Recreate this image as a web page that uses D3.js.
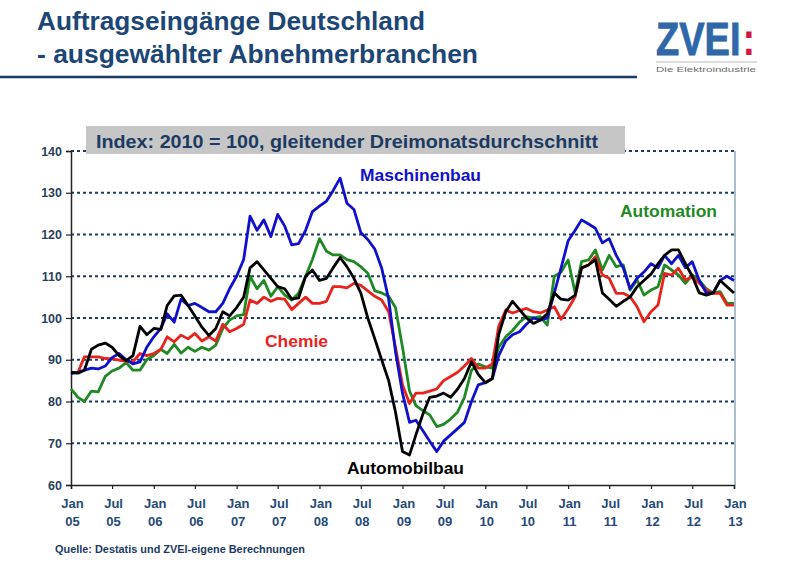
<!DOCTYPE html>
<html>
<head>
<meta charset="utf-8">
<script src="https://cdn.jsdelivr.net/npm/d3@7"></script>
<style>
  html, body { margin: 0; padding: 0; background: #ffffff; }
  svg { display: block; font-family: "Liberation Sans", Arial, sans-serif; }
</style>
</head>
<body>
<svg id="chart" width="800" height="562"></svg>
<script>
// ---------- DATA ----------
const startMonth = new Date(2005, 0, 1);
const monthCount = 97; // Jan 2005 .. Jan 2013

const yTicks = [60, 70, 80, 90, 100, 110, 120, 130, 140];
const xTickMonths = ["Jan","Jul","Jan","Jul","Jan","Jul","Jan","Jul","Jan","Jul","Jan","Jul","Jan","Jul","Jan","Jul","Jan"];
const xTickYears  = ["05","05","06","06","07","07","08","08","09","09","10","10","11","11","12","12","13"];

const maschinenbau = [
  86.7, 87, 87.5, 88, 87.8, 88.5, 90.5, 91.5, 90, 89, 89.5, 93,
  95.5, 97.5, 101, 99, 104.5, 103, 103.5, 102.5, 101.5, 101.5, 103.5, 107,
  110, 114, 124.4, 121, 123.5, 119.5, 124.8, 122, 117.5, 117.8, 121, 125.5,
  126.8, 128, 130.5, 133.5, 127.5, 126, 120.5, 118.8, 116.5, 112, 104.5, 92,
  82, 75, 75.5, 73, 70.5, 68, 70.5, 72, 73.5, 75, 80, 84,
  84.5, 85.5, 91, 94.5, 96, 96.7, 98.5, 100, 99.5, 100, 106, 112,
  118.5, 121, 123.5, 122.5, 121.5, 118, 119, 115, 112, 107, 109.5, 111,
  113, 112, 115, 113, 115, 112, 113.5, 109, 106, 106, 109, 110, 109
];
const automobilbau = [
  87, 86.8, 87.5, 92.5, 93.5, 94, 93, 91, 89.8, 91, 98, 96,
  97.5, 97.3, 103, 105.3, 105.5, 103, 100.5, 97.8, 95.8, 97.5, 101.5, 100.5,
  102.5, 105, 112, 113.5, 111.5, 109.5, 107.5, 107, 104.5, 104.8, 110, 111.5,
  109, 109.5, 112, 114.5, 112.3, 109.5, 106, 100, 95, 90, 85, 77.5,
  68, 67.2, 72, 77, 81, 81.3, 82, 81, 83, 85.5, 89.5, 86.5,
  84.5, 85.5, 96, 101.5, 104, 102, 100, 98.7, 99.5, 101, 106, 104.5,
  104.3, 105.5, 112, 112.7, 114, 106, 104.5, 102.8, 104, 105, 107.5, 109,
  110.5, 113, 115, 116.3, 116.3, 113, 110, 106, 105.5, 106, 109, 107.5, 106
];
const automation = [
  83, 81, 80, 82.5, 82.3, 86, 87.3, 88, 89.3, 87.5, 87.5, 90,
  91, 92.5, 91.5, 93.7, 91.6, 93, 92, 93, 92.3, 93.5, 97.5, 99.5,
  100.5, 100.8, 110, 107, 109, 105.2, 107.5, 105.5, 104.3, 105.9, 110, 114,
  119, 116, 115.1, 115.1, 114, 113.5, 112.3, 110.7, 106.5, 106, 105.2, 102.5,
  93, 82.5, 79, 77.8, 76.8, 74, 74.5, 75.8, 77.5, 81, 87.5, 89,
  88.3, 88, 93, 95.5, 97, 99, 100.3, 100, 100.3, 98.3, 110, 111,
  113.9, 106, 113.5, 113.9, 116.3, 111.5, 115, 112.3, 112.7, 106.7, 109.1, 105.5,
  106.7, 107.5, 112.7, 111.5, 110.3, 108.3, 110.3, 109, 107, 106, 106.3, 103.5, 103.5
];
const chemie = [
  87, 87, 90.7, 90.7, 90.7, 90.3, 90.2, 89.9, 89.6, 89.5, 91.5, 91,
  91.5, 92.5, 95.5, 94.3, 95.9, 95, 96.3, 94.5, 95.5, 94.5, 98.5, 96.7,
  97.5, 98.5, 104.3, 103.5, 105, 104, 104.7, 104.5, 102, 103.5, 105, 103.5,
  103.5, 104, 107.5, 107.5, 107.2, 108.3, 107.8, 106.5, 105.2, 104.3, 101.5, 93,
  84, 79.5, 82, 82, 82.5, 83, 85, 86, 87, 88.5, 90.3, 88,
  88, 89, 98, 101.9, 101.2, 101.8, 102.3, 101.5, 101.2, 101.9, 102.7, 99.7,
  102.2, 105.1, 112, 112.7, 114.7, 110.3, 109.5, 105.9, 105.9, 105.1, 102.7, 99.1,
  101.5, 103.1, 110.7, 110.3, 111.9, 109.1, 109.9, 108.3, 106.7, 105.9, 105.9, 103.1, 103.1
];

const seriesNames = ["Automation", "Chemie", "Maschinenbau", "Automobilbau"];
const seriesValues = [automation, chemie, maschinenbau, automobilbau];
const seriesColors = ["#1f8a24", "#e8231c", "#1010cc", "#000000"];

// ---------- DRAW ----------
const svg = d3.select("#chart");
const months = d3.timeMonth.range(startMonth, d3.timeMonth.offset(startMonth, monthCount));

const plot = { left: 71, right: 734, top: 151, bottom: 485 };
const x = d3.scaleTime()
  .domain([months[0], months[months.length - 1]])
  .range([plot.left, plot.right]);
const y = d3.scaleLinear().domain([60, 140]).range([plot.bottom, plot.top]);

const navy = "#1d3a63";

// Title
svg.append("text").attr("x", 37).attr("y", 30)
  .attr("font-size", 25).attr("font-weight", "bold").attr("fill", "#1b4676")
  .attr("textLength", 388).attr("lengthAdjust", "spacingAndGlyphs")
  .text("Auftragseingänge Deutschland");
svg.append("text").attr("x", 37).attr("y", 63)
  .attr("font-size", 25).attr("font-weight", "bold").attr("fill", "#1b4676")
  .attr("textLength", 441).attr("lengthAdjust", "spacingAndGlyphs")
  .text("- ausgewählter Abnehmerbranchen");
svg.append("line").attr("x1", 0).attr("x2", 637).attr("y1", 77).attr("y2", 77)
  .attr("stroke", "#1b3a60").attr("stroke-width", 2.5);

// Logo (one text element, coloured parts as tspans)
const logo = svg.append("text")
  .attr("transform", "translate(656,55) scale(1,1.2)")
  .attr("font-size", 38).attr("font-weight", "bold");
logo.append("tspan").attr("fill", "#2f68a8").attr("stroke", "#2f68a8").attr("stroke-width", 0.7).text("ZVEI");
logo.append("tspan").attr("fill", "#d2163f").attr("dx", 2).text(":");
svg.append("line").attr("x1", 656).attr("x2", 757).attr("y1", 62).attr("y2", 62)
  .attr("stroke", "#b8b8b8").attr("stroke-width", 1);
svg.append("text").attr("x", 656).attr("y", 72)
  .attr("font-size", 8).attr("fill", "#6b6b6b")
  .attr("textLength", 100).attr("lengthAdjust", "spacingAndGlyphs")
  .text("Die Elektroindustrie");

// Right border of plot
svg.append("line").attr("x1", plot.right + 1).attr("x2", plot.right + 1)
  .attr("y1", plot.top).attr("y2", plot.bottom)
  .attr("stroke", "#8fa9b8").attr("stroke-width", 1.5);

// Gridlines
svg.append("g").selectAll("line").data(yTicks.filter(d => d > 60)).join("line")
  .attr("x1", plot.left).attr("x2", plot.right + 1)
  .attr("y1", d => y(d)).attr("y2", d => y(d))
  .attr("stroke", navy).attr("stroke-width", 2)
  .attr("stroke-dasharray", "3,3");

// Y axis
const yAxis = svg.append("g").attr("transform", `translate(${plot.left},0)`)
  .call(d3.axisLeft(y).tickValues(yTicks).tickSize(5).tickFormat(d3.format("d")));
yAxis.select(".domain").attr("stroke", "#222").attr("stroke-width", 1.5);
yAxis.selectAll(".tick line").attr("stroke", "#222").attr("stroke-width", 1.2);
yAxis.selectAll(".tick text")
  .attr("font-family", "Liberation Sans, Arial, sans-serif")
  .attr("font-size", 12.5).attr("font-weight", "bold").attr("fill", "#2a3f5c")
  .attr("x", -9);

// X axis
const tickDates = xTickMonths.map((m, i) => d3.timeMonth.offset(startMonth, i * 6));
const xAxis = svg.append("g").attr("transform", `translate(0,${plot.bottom})`)
  .call(d3.axisBottom(x).tickValues(tickDates).tickSize(4).tickFormat(""));
xAxis.select(".domain").attr("stroke", "#222").attr("stroke-width", 1.5);
xAxis.selectAll(".tick line").attr("stroke", "#222").attr("stroke-width", 1.2);

const xl = svg.append("g");
tickDates.forEach((d, i) => {
  const t = xl.append("text").attr("x", x(d) + 1.5).attr("text-anchor", "middle")
    .attr("font-size", 13).attr("font-weight", "bold").attr("fill", "#264a7a");
  t.append("tspan").attr("x", x(d) + 1.5).attr("y", 508).text(xTickMonths[i]);
  t.append("tspan").attr("x", x(d) + 1.5).attr("y", 526).text(xTickYears[i]);
});

// Lines
const line = d3.line().x((d, i) => x(months[i])).y(d => y(d)).curve(d3.curveLinear);
svg.append("g").selectAll("path").data(seriesValues).join("path")
  .attr("d", d => line(d))
  .attr("fill", "none")
  .attr("stroke", (d, i) => seriesColors[i])
  .attr("stroke-width", 2.8)
  .attr("stroke-linejoin", "round");

// Gray header box
svg.append("rect").attr("x", 86).attr("y", 126).attr("width", 539).attr("height", 28)
  .attr("fill", "#c6c6c6");
svg.append("text").attr("x", 96).attr("y", 148)
  .attr("font-size", 18).attr("font-weight", "bold").attr("fill", "#1d3a63")
  .attr("textLength", 502).attr("lengthAdjust", "spacingAndGlyphs")
  .text("Index: 2010 = 100, gleitender Dreimonatsdurchschnitt");

// Series labels
const labels = [
  { name: "Maschinenbau", x: 360, y: 181, w: 121, c: seriesColors[2] },
  { name: "Automation",   x: 620, y: 217, w: 97,  c: seriesColors[0] },
  { name: "Chemie",       x: 265, y: 347, w: 63,  c: seriesColors[1] },
  { name: "Automobilbau", x: 347, y: 474, w: 117, c: seriesColors[3] }
];
svg.append("g").selectAll("text").data(labels).join("text")
  .attr("x", d => d.x).attr("y", d => d.y)
  .attr("font-size", 16).attr("font-weight", "bold")
  .attr("fill", d => d.c)
  .attr("textLength", d => d.w).attr("lengthAdjust", "spacingAndGlyphs")
  .text(d => d.name);

// Footer
svg.append("text").attr("x", 55).attr("y", 553)
  .attr("font-size", 10).attr("font-weight", "bold").attr("fill", "#1d3a63")
  .attr("textLength", 250).attr("lengthAdjust", "spacingAndGlyphs")
  .text("Quelle: Destatis und ZVEI-eigene Berechnungen");
</script>
</body>
</html>
